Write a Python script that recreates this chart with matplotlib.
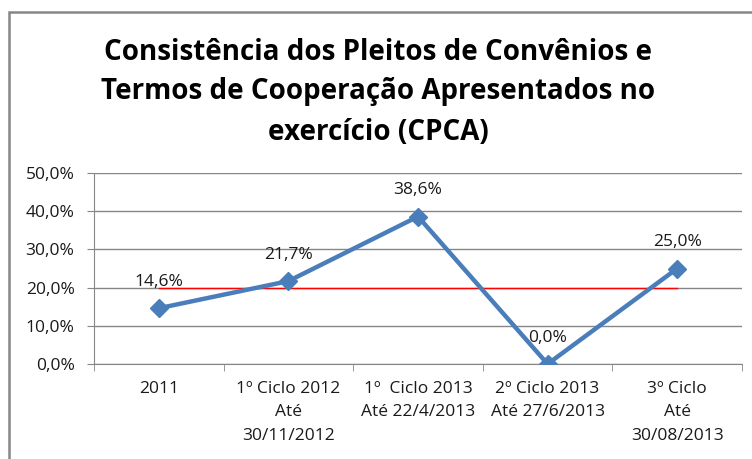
import matplotlib.pyplot as plt
from matplotlib.patches import Rectangle
from matplotlib.ticker import FixedLocator, FuncFormatter

plt.rcParams['font.family'] = ['Open Sans', 'DejaVu Sans']

# Data
categories = ['2011', '1º Ciclo 2012\nAté\n30/11/2012', '1º  Ciclo 2013\nAté 22/4/2013',
              '2º Ciclo 2013\nAté 27/6/2013', '3º Ciclo\nAté\n30/08/2013']
values = [14.6, 21.7, 38.6, 0.0, 25.0]
meta = [20.0, 20.0, 20.0, 20.0, 20.0]

fig = plt.figure(figsize=(7.52, 4.59), dpi=100)
ax = fig.add_axes([94 / 752, 1 - 364 / 459, 648 / 752, 191 / 459])

x = list(range(len(categories)))
ax.plot(x, meta, color='#FF0000', lw=1.0, zorder=2)
ax.plot(x, values, color='#4A7EBB', lw=3.2, marker='D', markersize=9, zorder=3)

for xi, v in zip(x, values):
    ax.annotate(f'{v:.1f}%'.replace('.', ','), (xi, v), xytext=(0, 19),
                textcoords='offset points', ha='center', va='center',
                fontsize=12.5, color='#1a1a1a', zorder=4)

ax.set_xlim(-0.5, len(categories) - 0.5)
ax.set_ylim(0, 50)
ax.set_yticks([0, 10, 20, 30, 40, 50])
ax.yaxis.set_major_formatter(FuncFormatter(lambda v, p: f'{v:.1f}%'.replace('.', ',')))
ax.set_xticks(x)
ax.set_xticklabels(categories, linespacing=1.62)
ax.xaxis.set_minor_locator(FixedLocator([i - 0.5 for i in range(len(categories) + 1)]))
ax.tick_params(axis='x', which='major', length=0, pad=12, labelsize=12.5, labelcolor='#1a1a1a')
ax.tick_params(axis='x', which='minor', length=5, color='#868686', direction='out')
ax.tick_params(axis='y', length=5, color='#868686', labelsize=12.5, labelcolor='#1a1a1a', pad=9)

ax.grid(axis='y', color='#868686', lw=1.0)
ax.set_axisbelow(True)
for s in ['top', 'right']:
    ax.spines[s].set_visible(False)
for s in ['left', 'bottom']:
    ax.spines[s].set_color('#868686')

fig.text(0.503, 1 - 92 / 459,
         'Consistência dos Pleitos de Convênios e\nTermos de Cooperação Apresentados no\nexercício (CPCA)',
         ha='center', va='center', fontsize=20, fontweight='bold', linespacing=1.5)

# outer chart frame
fig.patches.append(Rectangle((9 / 752, -0.1), 1.2, 1 - 12 / 459 + 0.1, transform=fig.transFigure,
                             fill=False, edgecolor='#868686', lw=1.8))

fig.savefig('out.png', dpi=100)
